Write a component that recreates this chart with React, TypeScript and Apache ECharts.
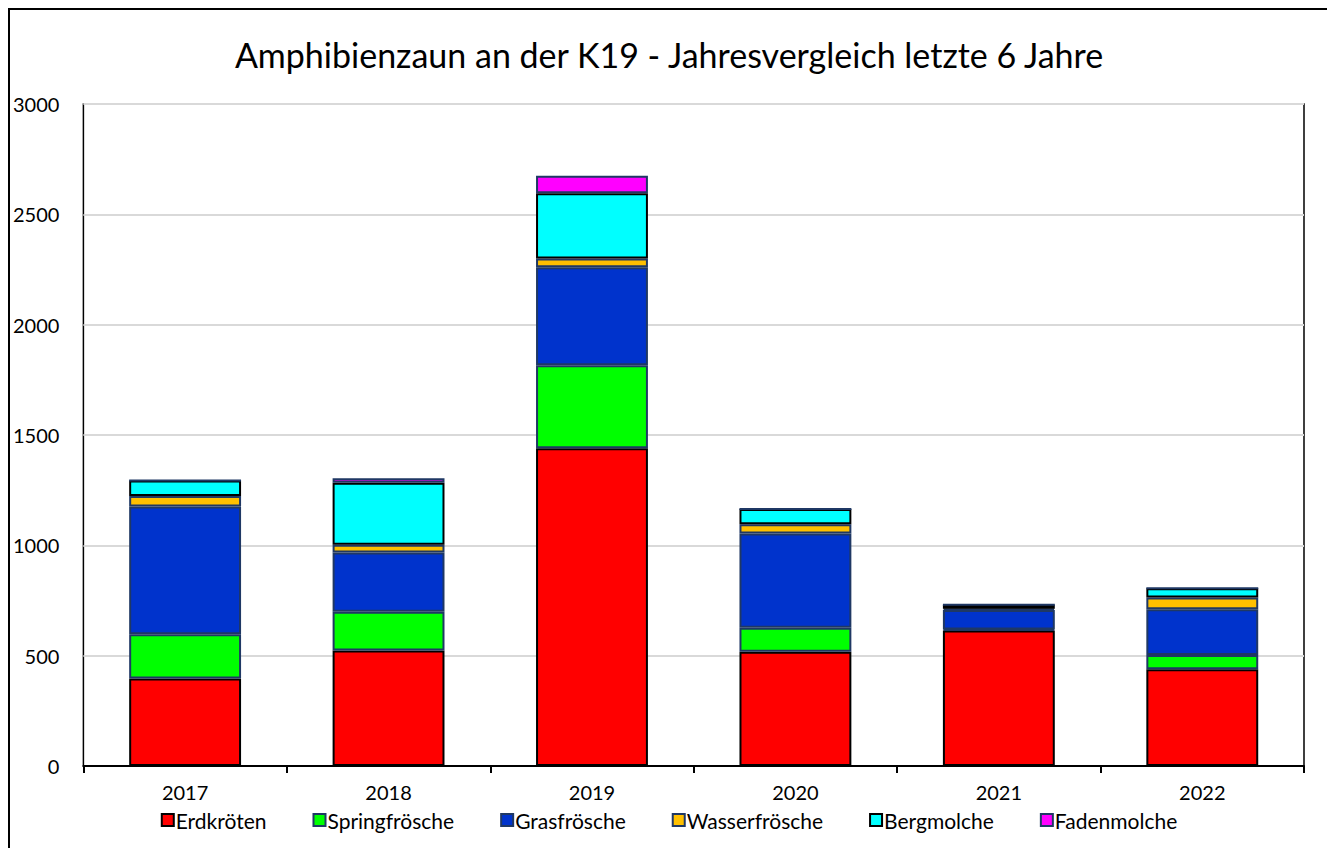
import React, { useEffect, useRef } from "react";
import * as echarts from "echarts";

const years = ["2017", "2018", "2019", "2020", "2021", "2022"];
const seriesNames = ["Erdkröten", "Springfrösche", "Grasfrösche", "Wasserfrösche", "Bergmolche", "Fadenmolche"];
const erdkroeten = [397, 523, 1440, 518, 614, 438];
const springfroesche = [200, 176, 376, 109, 5, 65];
const grasfroesche = [579, 269, 444, 427, 88, 207];
const wasserfroesche = [48, 35, 40, 41, 6, 54];
const bergmolche = [70, 281, 295, 70, 18, 41];
const fadenmolche = [0, 20, 80, 0, 0, 0];
const yTicks = [0, 500, 1000, 1500, 2000, 2500, 3000];

const colors = ["#ff0000", "#00ff00", "#0033cc", "#ffc000", "#00ffff", "#ff00ff"];
const borders = ["#000000", "#1f3864", "#1f3864", "#1f3864", "#000000", "#1f3864"];

export default function App() {
  const ref = useRef<HTMLDivElement>(null);
  useEffect(() => {
    const chart = echarts.init(ref.current!, null, { renderer: "svg" });
    const values = [erdkroeten, springfroesche, grasfroesche, wasserfroesche, bergmolche, fadenmolche];
    chart.setOption({
      animation: false,
      textStyle: { fontFamily: "Lato" },
      title: {
        text: "Amphibienzaun an der K19 - Jahresvergleich letzte 6 Jahre",
        left: "center",
        top: 22,
        textStyle: { fontFamily: "Lato", fontSize: 34, fontWeight: "normal", color: "#000" },
      },
      legend: {
        data: seriesNames,
        bottom: 12,
        left: "center",
        itemWidth: 12,
        itemHeight: 12,
        itemGap: 46,
        icon: "rect",
        textStyle: { fontFamily: "Lato", fontSize: 21, lineHeight: 22, color: "#000", padding: [0, 0, 0, -3] },
      },
      grid: { left: 73, top: 94, right: 24, bottom: 82, show: true, borderColor: "#000", borderWidth: 1.5 },
      xAxis: {
        type: "category",
        data: years,
        axisLine: { lineStyle: { color: "#000", width: 2 } },
        axisTick: { show: true, length: 7, lineStyle: { color: "#000", width: 2 } },
        axisLabel: { fontFamily: "Lato", fontSize: 20, lineHeight: 20, color: "#000", margin: 16 },
      },
      yAxis: {
        type: "value",
        min: yTicks[0],
        max: yTicks[yTicks.length - 1],
        interval: 500,
        axisLine: { show: false },
        axisTick: { show: false },
        axisLabel: { fontFamily: "Lato", fontSize: 20, color: "#000", margin: 24, formatter: (v: number) => String(v) },
        splitLine: { lineStyle: { color: "#d9d9d9", width: 2 } },
      },
      series: seriesNames.map((name, i) => ({
        name,
        type: "bar",
        stack: "total",
        barWidth: "55%",
        data: values[i],
        itemStyle: { color: colors[i], borderColor: borders[i], borderWidth: 2 },
      })),
    });
    return () => chart.dispose();
  }, []);
  return (
    <div style={{ width: 1322, height: 842, border: "2px solid #000", boxSizing: "border-box" }}>
      <div ref={ref} style={{ width: 1318, height: 838 }} />
    </div>
  );
}
